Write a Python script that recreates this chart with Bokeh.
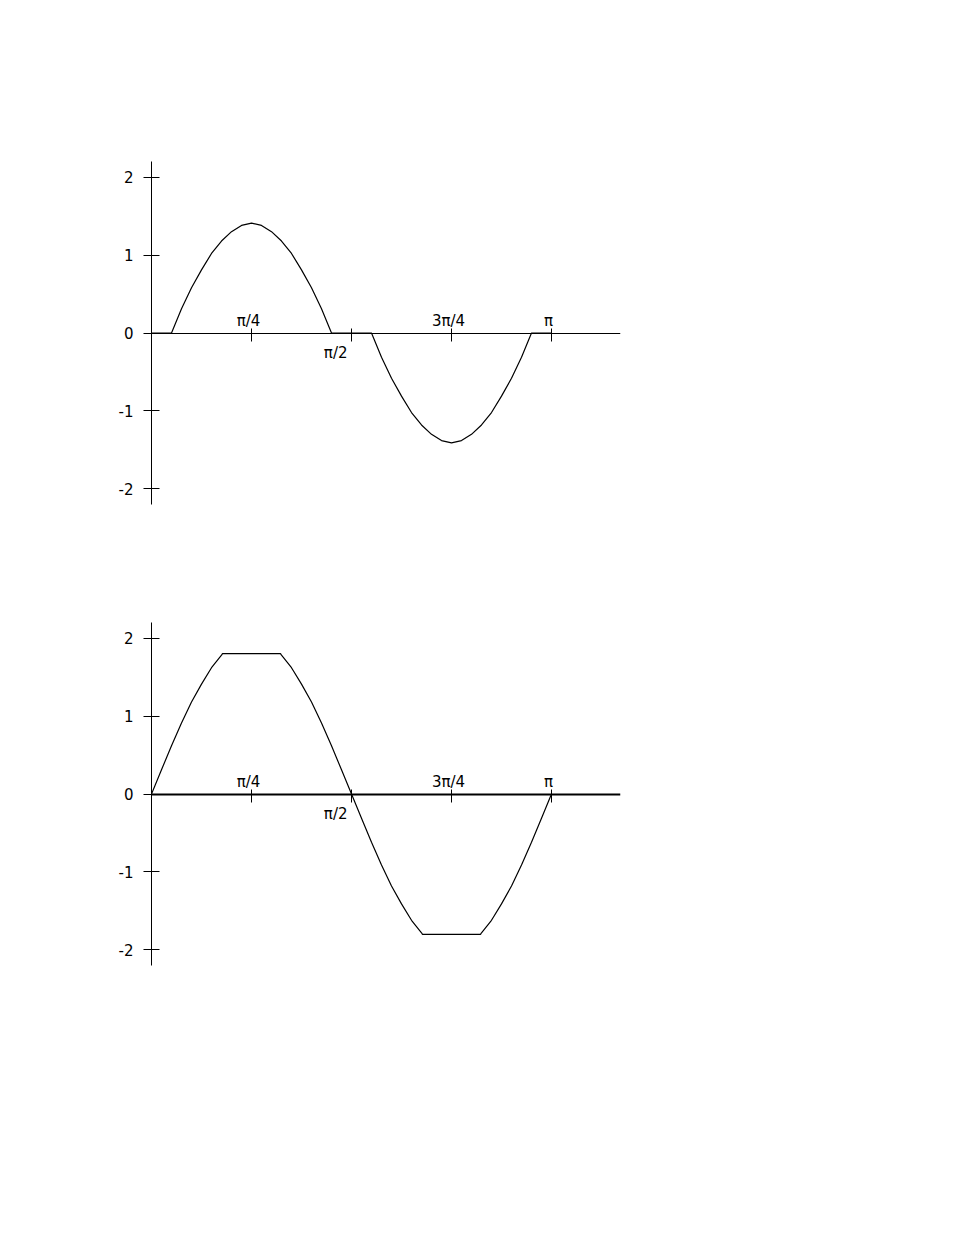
import numpy as np
from bokeh.plotting import figure
from bokeh.models import LinearAxis, FixedTicker, Range1d
from bokeh.layouts import column
from bokeh.embed import file_html
from bokeh.resources import INLINE
from bokeh.core.properties import value

# ---- data (x in units of pi/4) ----
top_x = [0, 0.2, 0.3, 0.4, 0.5, 0.6, 0.7, 0.8, 0.9, 1.0, 1.1, 1.2, 1.3, 1.4, 1.5, 1.6, 1.7, 1.8,
         2.2, 2.3, 2.4, 2.5, 2.6, 2.7, 2.8, 2.9, 3.0, 3.1, 3.2, 3.3, 3.4, 3.5, 3.6, 3.7, 3.8, 4.0]
top_y = [0, 0, 0.31, 0.58, 0.81, 1.02, 1.18, 1.30, 1.38, 1.41, 1.38, 1.30, 1.18, 1.02, 0.81, 0.58, 0.31, 0,
         0, -0.31, -0.58, -0.81, -1.02, -1.18, -1.30, -1.38, -1.41, -1.38, -1.30, -1.18, -1.02, -0.81, -0.58, -0.31, 0, 0]

bottom_x = [0, 0.1, 0.2, 0.3, 0.4, 0.5, 0.6, 0.7, 0.71, 1.29, 1.3, 1.4, 1.5, 1.6, 1.7, 1.8, 1.9, 2.0,
            2.1, 2.2, 2.3, 2.4, 2.5, 2.6, 2.7, 2.71, 3.29, 3.3, 3.4, 3.5, 3.6, 3.7, 3.8, 3.9, 4.0]
bottom_y = [0, 0.31, 0.62, 0.91, 1.18, 1.41, 1.62, 1.78, 1.8, 1.8, 1.78, 1.62, 1.41, 1.18, 0.91, 0.62, 0.31, 0,
            -0.31, -0.62, -0.91, -1.18, -1.41, -1.62, -1.78, -1.8, -1.8, -1.78, -1.62, -1.41, -1.18, -0.91, -0.62, -0.31, 0]

x_ticks = [1, 2, 3, 4]
x_tick_labels = ["π/4", "π/2", "3π/4", "π"]
y_ticks = [2, 1, 0, -1, -2]
y_tick_labels = ["2", "1", "0", "-1", "-2"]

Q = np.pi / 4
FONT = "DejaVu Sans"
FSIZE = "15px"


def make_panel(xs, ys, height, border_top, border_bottom, xaxis_width):
    p = figure(width=640, height=height, output_backend="svg", toolbar_location=None,
               x_range=Range1d(0, 4.69 * Q), y_range=Range1d(-2.2, 2.2),
               x_axis_location=None, y_axis_location=None,
               min_border_left=151, min_border_right=20,
               min_border_top=border_top, min_border_bottom=border_bottom,
               background_fill_color="white", border_fill_color="white")
    p.outline_line_color = None
    p.xgrid.visible = False
    p.ygrid.visible = False

    yaxis = LinearAxis(ticker=FixedTicker(ticks=y_ticks),
                       major_label_overrides={t: l for t, l in zip(y_ticks, y_tick_labels)},
                       major_tick_in=8, major_tick_out=8,
                       minor_tick_in=0, minor_tick_out=0,
                       major_label_standoff=10,
                       axis_line_color="black", major_tick_line_color="black",
                       major_label_text_color="black",
                       major_label_text_font=FONT, major_label_text_font_size=FSIZE)
    p.add_layout(yaxis, "left")

    xt = [t * Q for t in x_ticks]
    xaxis = LinearAxis(ticker=FixedTicker(ticks=xt), fixed_location=0,
                       major_label_overrides={t: "" for t in xt},
                       major_label_text_font_size="0px",
                       major_tick_in=5, major_tick_out=8,
                       minor_tick_in=0, minor_tick_out=0,
                       axis_line_color="black", axis_line_width=xaxis_width,
                       major_tick_line_color="black")
    p.add_layout(xaxis, "below")

    p.line([x * Q for x in xs], ys, line_color="black", line_width=1.2)

    up = [i for i, l in enumerate(x_tick_labels) if l != "π/2"]
    down = [i for i, l in enumerate(x_tick_labels) if l == "π/2"]
    p.text(x=[x_ticks[i] * Q for i in up], y=[0] * len(up), text=[x_tick_labels[i] for i in up],
           text_align="center", text_baseline="alphabetic", x_offset=-3, y_offset=-12,
           text_font=value(FONT), text_font_size=FSIZE, text_color="black")
    p.text(x=[x_ticks[i] * Q for i in down], y=[0] * len(down), text=[x_tick_labels[i] for i in down],
           text_align="right", text_baseline="alphabetic", x_offset=-4, y_offset=20,
           text_font=value(FONT), text_font_size=FSIZE, text_color="black")
    return p


p1 = make_panel(top_x, top_y, 563, 161, 59, 1)
p2 = make_panel(bottom_x, bottom_y, 462, 59, 60, 2)

layout = column(p1, p2, spacing=0)
open("out.html", "w").write(file_html(layout, INLINE))
